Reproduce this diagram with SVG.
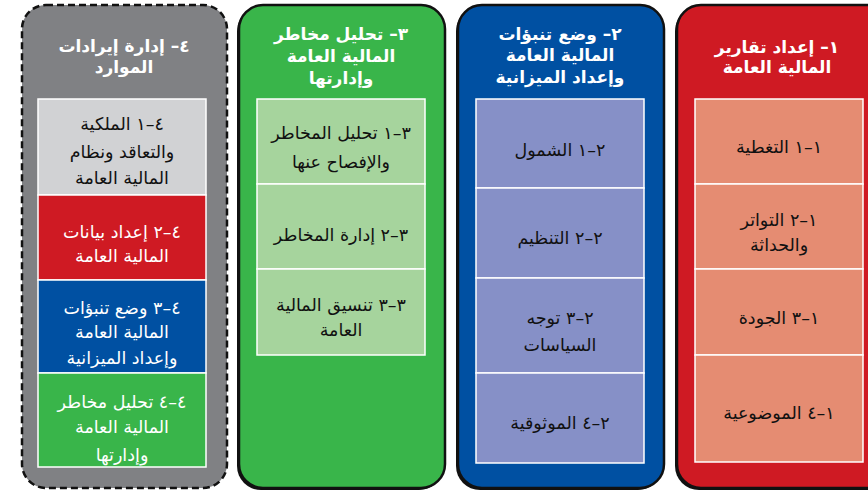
<svg xmlns="http://www.w3.org/2000/svg" width="868" height="492" viewBox="0 0 868 492">
<style>
.col{stroke:#111;stroke-width:2.5}
.sh{fill:#111}
.box{stroke:#fff;stroke-width:1.5}
text{font-family:"DejaVu Sans",sans-serif;text-anchor:middle;direction:rtl}
.t{fill:#fff;font-weight:bold;font-size:17px}
.s{fill:#111;font-size:17.5px}
.w{fill:#fff;font-size:17.5px}
</style>
<rect width="868" height="492" fill="#fff"/>
<g id="col4-revenue">
<rect class="col" x="22" y="5" width="205" height="483" rx="24" fill="#808184" stroke-dasharray="7 4"/>
<text class="t" x="124" y="52">٤– إدارة إيرادات</text>
<text class="t" x="124" y="73">الموارد</text>
<g id="n4-1"><rect class="box" x="38" y="99" width="168" height="96" fill="#d1d2d4"/>
<text class="s" x="122" y="130">٤–١ الملكية</text><text class="s" x="122" y="158">والتعاقد ونظام</text><text class="s" x="122" y="184">المالية العامة</text></g>
<g id="n4-2"><rect class="box" x="38" y="195" width="168" height="85" fill="#cf1a23"/>
<text class="w" x="122" y="238">٤–٢ إعداد بيانات</text><text class="w" x="122" y="262">المالية العامة</text></g>
<g id="n4-3"><rect class="box" x="38" y="280" width="168" height="93" fill="#0050a2"/>
<text class="w" x="122" y="314">٤–٣ وضع تنبؤات</text><text class="w" x="122" y="338">المالية العامة</text><text class="w" x="122" y="364">وإعداد الميزانية</text></g>
<g id="n4-4"><rect class="box" x="38" y="373" width="168" height="94" fill="#39b54a"/>
<text class="w" x="122" y="408">٤–٤ تحليل مخاطر</text><text class="w" x="122" y="433">المالية العامة</text><text class="w" x="122" y="461">وإدارتها</text></g>
</g>
<g id="col3-risk">
<rect class="sh" x="237" y="7" width="206" height="483" rx="24"/>
<rect class="col" x="239" y="5" width="206" height="483" rx="24" fill="#39b54a"/>
<text class="t" x="341" y="40">٣– تحليل مخاطر</text>
<text class="t" x="341" y="62">المالية العامة</text>
<text class="t" x="341" y="84">وإدارتها</text>
<g id="n3-1"><rect class="box" x="257" y="99" width="168" height="85" fill="#a6d49d"/>
<text class="s" x="341" y="139">٣–١ تحليل المخاطر</text><text class="s" x="341" y="168">والإفصاح عنها</text></g>
<g id="n3-2"><rect class="box" x="257" y="184" width="168" height="85" fill="#a6d49d"/>
<text class="s" x="341" y="241">٣–٢ إدارة المخاطر</text></g>
<g id="n3-3"><rect class="box" x="257" y="269" width="168" height="86" fill="#a6d49d"/>
<text class="s" x="341" y="311">٣–٣ تنسيق المالية</text><text class="s" x="341" y="336">العامة</text></g>
</g>
<g id="col2-forecast">
<rect class="sh" x="456" y="7" width="206" height="483" rx="24"/>
<rect class="col" x="458" y="5" width="206" height="483" rx="24" fill="#0050a2"/>
<text class="t" x="560" y="40">٢– وضع تنبؤات</text>
<text class="t" x="560" y="61">المالية العامة</text>
<text class="t" x="560" y="83">وإعداد الميزانية</text>
<g id="n2-1"><rect class="box" x="476" y="99" width="168" height="89" fill="#8690c7"/>
<text class="s" x="560" y="156">٢–١ الشمول</text></g>
<g id="n2-2"><rect class="box" x="476" y="188" width="168" height="90" fill="#8690c7"/>
<text class="s" x="560" y="244">٢–٢ التنظيم</text></g>
<g id="n2-3"><rect class="box" x="476" y="278" width="168" height="95" fill="#8690c7"/>
<text class="s" x="560" y="324">٢–٣ توجه</text><text class="s" x="560" y="351">السياسات</text></g>
<g id="n2-4"><rect class="box" x="476" y="373" width="168" height="90" fill="#8690c7"/>
<text class="s" x="560" y="429">٢–٤ الموثوقية</text></g>
</g>
<g id="col1-reporting">
<rect class="sh" x="675" y="7" width="215" height="483" rx="24"/>
<rect class="col" x="677" y="5" width="215" height="483" rx="24" fill="#cf1a23"/>
<text class="t" x="777" y="53">١– إعداد تقارير</text>
<text class="t" x="777" y="73">المالية العامة</text>
<g id="n1-1"><rect class="box" x="695" y="99" width="168" height="85" fill="#e58c72"/>
<text class="s" x="779" y="153">١–١ التغطية</text></g>
<g id="n1-2"><rect class="box" x="695" y="184" width="168" height="85" fill="#e58c72"/>
<text class="s" x="779" y="226">١–٢ التواتر</text><text class="s" x="779" y="251">والحداثة</text></g>
<g id="n1-3"><rect class="box" x="695" y="269" width="168" height="86" fill="#e58c72"/>
<text class="s" x="779" y="324">١–٣ الجودة</text></g>
<g id="n1-4"><rect class="box" x="695" y="355" width="168" height="107" fill="#e58c72"/>
<text class="s" x="779" y="419">١–٤ الموضوعية</text></g>
</g>
<g id="connectors"/>
</svg>
